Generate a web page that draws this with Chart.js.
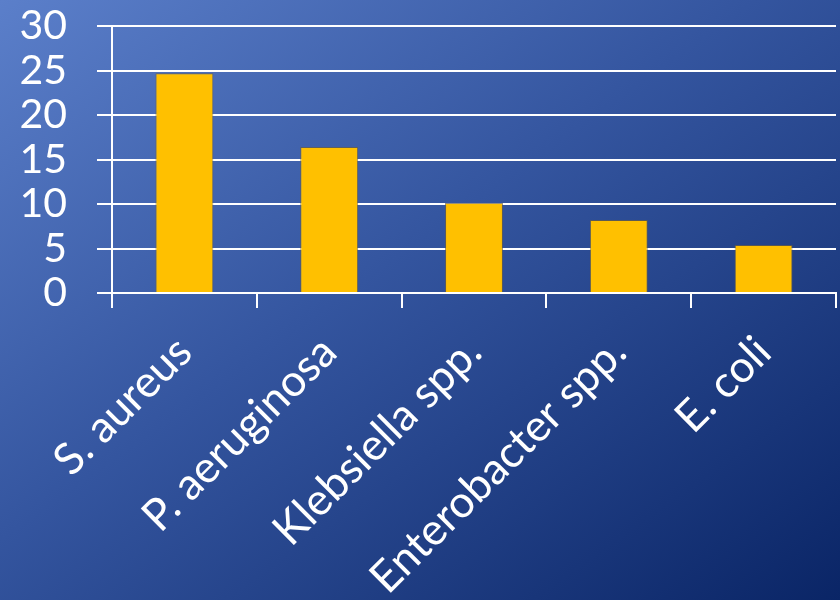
<!DOCTYPE html>
<html>
<head>
<meta charset="utf-8">
<script src="https://cdn.jsdelivr.net/npm/chart.js@4/dist/chart.umd.min.js"></script>
<style>
    html, body { margin: 0; padding: 0; }
    body {
        width: 840px;
        height: 600px;
        overflow: hidden;
        background: linear-gradient(to bottom right, #5b7fca 0%, #34559f 45%, #0a2566 100%);
    }
    #wrap { width: 840px; height: 600px; position: relative; }
</style>
</head>
<body>
<div id="wrap"><canvas id="chart"></canvas></div>
<script>
const categories = ["S. aureus", "P. aeruginosa", "Klebsiella spp.", "Enterobacter spp.", "E. coli"];
const values = [24.7, 16.4, 10.1, 8.2, 5.4];
const yTicks = [0, 5, 10, 15, 20, 25, 30];

const fontFamily = "Lato, 'Open Sans', sans-serif";

new Chart(document.getElementById("chart"), {
    type: "bar",
    data: {
        labels: categories,
        datasets: [{
            data: values,
            backgroundColor: "#ffc000",
            borderColor: "rgba(110, 95, 60, 0.7)",
            borderWidth: 1,
            categoryPercentage: 0.8,
            barPercentage: 0.5,
        }],
    },
    options: {
        responsive: true,
        maintainAspectRatio: false,
        animation: false,
        layout: { padding: { top: 26, right: 4, left: 0, bottom: 0 } },
        plugins: { legend: { display: false }, tooltip: { enabled: false } },
        scales: {
            x: {
                grid: {
                    offset: true,
                    drawOnChartArea: false,
                    color: "#ffffff",
                    lineWidth: 2,
                    tickLength: 15,
                },
                border: { display: true, color: "#ffffff", width: 2 },
                ticks: {
                    color: "#ffffff",
                    font: { family: fontFamily, size: 44 },
                    minRotation: 45,
                    maxRotation: 45,
                    padding: 18,
                    autoSkip: false,
                },
                afterFit: (scale) => {
                    scale.height = 307;
                    scale.paddingLeft = 0;
                    scale.paddingRight = 0;
                    scale.paddingTop = 0;
                    scale.paddingBottom = 0;
                },
            },
            y: {
                min: 0,
                max: 30,
                afterBuildTicks: (scale) => { scale.ticks = yTicks.map((value) => ({ value })); },
                grid: {
                    color: "#ffffff",
                    lineWidth: 2,
                    tickLength: 15,
                },
                border: { display: true, color: "#ffffff", width: 2 },
                ticks: {
                    color: "#ffffff",
                    font: { family: fontFamily, size: 41, lineHeight: 1 },
                    padding: 30,
                    autoSkip: false,
                },
                afterFit: (scale) => {
                    scale.width = 112;
                    scale.paddingTop = 0;
                    scale.paddingBottom = 0;
                },
            },
        },
    },
});
</script>
</body>
</html>
